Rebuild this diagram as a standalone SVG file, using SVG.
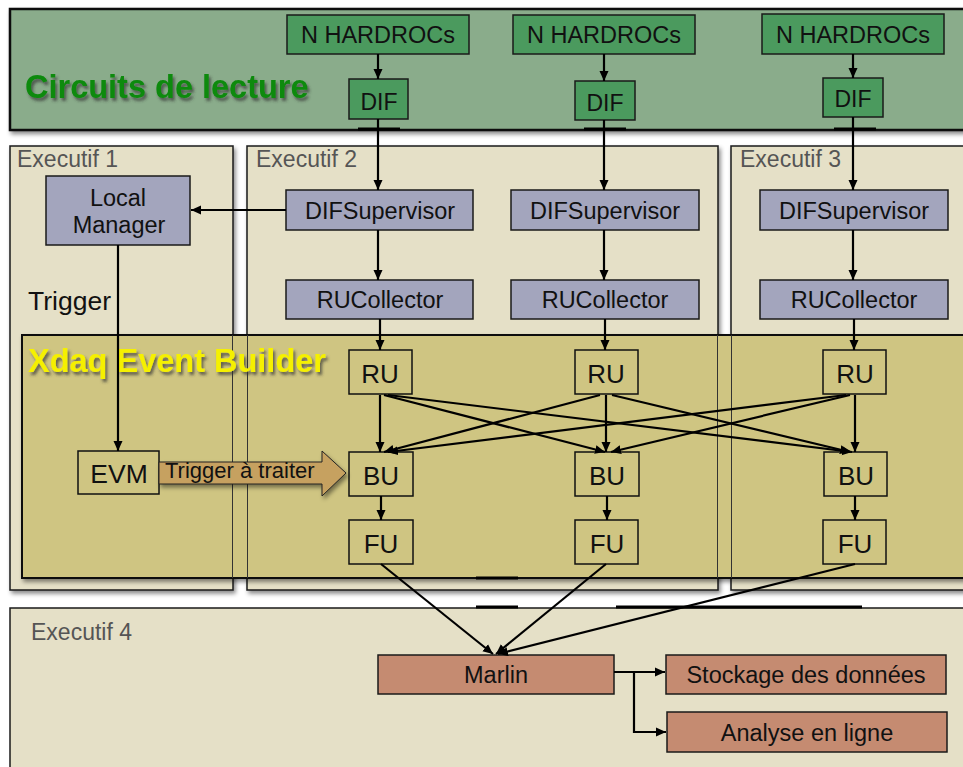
<svg xmlns="http://www.w3.org/2000/svg" width="963" height="767" viewBox="0 0 963 767">
<style>
.panel{stroke:#1a1a1a;stroke-width:1.5}
.exec{fill:#e5e0c7}
.hard{fill:#4b9a5e;stroke:#1a1a1a;stroke-width:1.5}
.sup{fill:#a3a5bd;stroke:#1a1a1a;stroke-width:1.5}
.xd{fill:none;stroke:#111;stroke-width:1.5}
.mar{fill:#c58b71;stroke:#1a1a1a;stroke-width:1.5}
.t{font-family:"Liberation Sans",Arial,sans-serif;fill:#111;text-anchor:middle}
.lbl{font-family:"Liberation Sans",Arial,sans-serif;fill:#555;font-size:23px}
.c{fill:none;stroke:#000;stroke-width:2.2}
.bar{stroke:#000;stroke-width:3}
</style>
<defs>
<marker id="ah" markerWidth="12" markerHeight="12" refX="10" refY="5.5" orient="auto" markerUnits="userSpaceOnUse">
<path d="M0,1 L10,5.5 L0,10 Z" fill="#000"/>
</marker>
<filter id="sh" x="-10%" y="-10%" width="120%" height="130%">
<feDropShadow dx="2" dy="3" stdDeviation="2" flood-color="#000" flood-opacity="0.45"/>
</filter>
<filter id="tsh" x="-5%" y="-20%" width="110%" height="150%">
<feDropShadow dx="2" dy="3" stdDeviation="1.5" flood-color="#333" flood-opacity="0.7"/>
</filter>
</defs>

<g id="panel-circuits">
<rect x="10" y="9" width="960" height="121" fill="#8aac8b" stroke="#111" stroke-width="2.5" filter="url(#sh)"/>
<text x="25" y="98" font-family="Liberation Sans,Arial,sans-serif" font-weight="bold" font-size="32.5" fill="#0b8a0b" filter="url(#tsh)">Circuits de lecture</text>
</g>

<g id="panel-exec1"><rect class="panel exec" x="10" y="146" width="223" height="444" filter="url(#sh)"/>
<text class="lbl" x="17" y="167">Executif 1</text></g>
<g id="panel-exec2"><rect class="panel exec" x="247" y="146" width="471" height="444" filter="url(#sh)"/>
<text class="lbl" x="256" y="167">Executif 2</text></g>
<g id="panel-exec3"><rect class="panel exec" x="731" y="146" width="240" height="444" filter="url(#sh)"/>
<text class="lbl" x="740" y="167">Executif 3</text></g>
<g id="panel-exec4"><rect class="panel exec" x="10" y="608" width="960" height="170"/>
<text class="lbl" x="31" y="640">Executif 4</text></g>

<g id="panel-xdaq">
<rect x="22" y="335" width="950" height="243" fill="#cfc582" stroke="#111" stroke-width="2" filter="url(#sh)"/>
<line x1="232.5" y1="335" x2="232.5" y2="578" stroke="#333" stroke-width="1"/>
<line x1="247.5" y1="335" x2="247.5" y2="578" stroke="#333" stroke-width="1"/>
<line x1="717.5" y1="335" x2="717.5" y2="578" stroke="#333" stroke-width="1"/>
<line x1="731.5" y1="335" x2="731.5" y2="578" stroke="#333" stroke-width="1"/>
<text x="28" y="372" font-family="Liberation Sans,Arial,sans-serif" font-weight="bold" font-size="32.5" fill="#f5f000" filter="url(#tsh)">Xdaq Event Builder</text>
</g>

<g id="hardrocs-1"><rect class="hard" x="287" y="15" width="182" height="39"/><text class="t" x="378" y="43" font-size="23.5">N HARDROCs</text></g>
<g id="hardrocs-2"><rect class="hard" x="513" y="15" width="182" height="39"/><text class="t" x="604" y="43" font-size="23.5">N HARDROCs</text></g>
<g id="hardrocs-3"><rect class="hard" x="762" y="14" width="182" height="40"/><text class="t" x="853" y="43" font-size="23.5">N HARDROCs</text></g>

<g id="dif-1"><rect class="hard" x="349" y="79" width="59" height="40"/><text class="t" x="379" y="110" font-size="23">DIF</text></g>
<g id="dif-2"><rect class="hard" x="575" y="81" width="60" height="39"/><text class="t" x="605" y="111" font-size="23">DIF</text></g>
<g id="dif-3"><rect class="hard" x="823" y="78" width="60" height="39"/><text class="t" x="853" y="107" font-size="23">DIF</text></g>

<g id="local-manager"><rect class="sup" x="46" y="176" width="144" height="69"/>
<text class="t" x="118" y="206" font-size="23.5">Local</text><text class="t" x="119" y="233" font-size="23.5">Manager</text></g>

<g id="difsup-1"><rect class="sup" x="286" y="190" width="187" height="40"/><text class="t" x="380" y="219" font-size="23.5">DIFSupervisor</text></g>
<g id="difsup-2"><rect class="sup" x="511" y="190" width="188" height="40"/><text class="t" x="605" y="219" font-size="23.5">DIFSupervisor</text></g>
<g id="difsup-3"><rect class="sup" x="760" y="190" width="188" height="40"/><text class="t" x="854" y="219" font-size="23.5">DIFSupervisor</text></g>

<g id="rucoll-1"><rect class="sup" x="286" y="280" width="187" height="39"/><text class="t" x="380" y="308" font-size="23.5">RUCollector</text></g>
<g id="rucoll-2"><rect class="sup" x="511" y="280" width="188" height="39"/><text class="t" x="605" y="308" font-size="23.5">RUCollector</text></g>
<g id="rucoll-3"><rect class="sup" x="760" y="280" width="188" height="39"/><text class="t" x="854" y="308" font-size="23.5">RUCollector</text></g>

<g id="ru-1"><rect class="xd" x="349" y="350" width="63" height="44"/><text class="t" x="380" y="383" font-size="26">RU</text></g>
<g id="ru-2"><rect class="xd" x="575" y="350" width="63" height="44"/><text class="t" x="606" y="383" font-size="26">RU</text></g>
<g id="ru-3"><rect class="xd" x="823" y="350" width="63" height="44"/><text class="t" x="855" y="383" font-size="26">RU</text></g>

<g id="bu-1"><rect class="xd" x="349" y="452" width="64" height="44"/><text class="t" x="381" y="485" font-size="26">BU</text></g>
<g id="bu-2"><rect class="xd" x="575" y="452" width="64" height="44"/><text class="t" x="607" y="485" font-size="26">BU</text></g>
<g id="bu-3"><rect class="xd" x="824" y="452" width="63" height="44"/><text class="t" x="856" y="485" font-size="26">BU</text></g>

<g id="fu-1"><rect class="xd" x="349" y="520" width="64" height="44"/><text class="t" x="381" y="553" font-size="26">FU</text></g>
<g id="fu-2"><rect class="xd" x="575" y="520" width="63" height="44"/><text class="t" x="607" y="553" font-size="26">FU</text></g>
<g id="fu-3"><rect class="xd" x="823" y="520" width="63" height="44"/><text class="t" x="855" y="553" font-size="26">FU</text></g>

<g id="evm"><rect class="xd" x="78" y="451" width="81" height="43"/><text class="t" x="119" y="483" font-size="26.5">EVM</text></g>

<g id="trigger-arrow">
<path d="M159,462 L322,462 L322,451 L346,473 L322,496 L322,484 L159,484 Z" fill="#c6a160" stroke="#222" stroke-width="1" filter="url(#sh)"/>
<text x="165" y="478" font-family="Liberation Sans,Arial,sans-serif" font-size="22" fill="#111">Trigger à traiter</text>
</g>

<g id="marlin"><rect class="mar" x="378" y="655" width="236" height="39"/><text class="t" x="496" y="683" font-size="23.5">Marlin</text></g>
<g id="stockage"><rect class="mar" x="666" y="655" width="280" height="39"/><text class="t" x="806" y="683" font-size="23.5">Stockage des données</text></g>
<g id="analyse"><rect class="mar" x="667" y="712" width="280" height="40"/><text class="t" x="807" y="741" font-size="23.5">Analyse en ligne</text></g>

<g id="connectors">
<line class="c" x1="378" y1="54" x2="378" y2="79" marker-end="url(#ah)"/>
<line class="c" x1="604" y1="54" x2="604" y2="81" marker-end="url(#ah)"/>
<line class="c" x1="853" y1="54" x2="853" y2="78" marker-end="url(#ah)"/>
<line class="c" x1="378" y1="119" x2="378" y2="190" marker-end="url(#ah)"/>
<line class="c" x1="604" y1="120" x2="604" y2="190" marker-end="url(#ah)"/>
<line class="c" x1="853" y1="117" x2="853" y2="190" marker-end="url(#ah)"/>
<line class="c" x1="378" y1="230" x2="378" y2="280" marker-end="url(#ah)"/>
<line class="c" x1="604" y1="230" x2="604" y2="280" marker-end="url(#ah)"/>
<line class="c" x1="853" y1="230" x2="853" y2="280" marker-end="url(#ah)"/>
<line class="c" x1="286" y1="210" x2="191" y2="210" marker-end="url(#ah)"/>
<line class="c" x1="118" y1="245" x2="118" y2="451" marker-end="url(#ah)"/>
<text x="28" y="310" font-family="Liberation Sans,Arial,sans-serif" font-size="26.5" fill="#111">Trigger</text>
<line class="c" x1="380" y1="319" x2="380" y2="350" marker-end="url(#ah)"/>
<line class="c" x1="605" y1="319" x2="605" y2="350" marker-end="url(#ah)"/>
<line class="c" x1="854" y1="319" x2="854" y2="350" marker-end="url(#ah)"/>
<line class="c" x1="380" y1="395" x2="380" y2="452" marker-end="url(#ah)"/>
<line class="c" x1="384" y1="395" x2="605" y2="452" marker-end="url(#ah)"/>
<line class="c" x1="388" y1="395" x2="852" y2="452" marker-end="url(#ah)"/>
<line class="c" x1="600" y1="395" x2="384" y2="452" marker-end="url(#ah)"/>
<line class="c" x1="606" y1="395" x2="606" y2="452" marker-end="url(#ah)"/>
<line class="c" x1="612" y1="395" x2="850" y2="452" marker-end="url(#ah)"/>
<line class="c" x1="846" y1="395" x2="388" y2="452" marker-end="url(#ah)"/>
<line class="c" x1="850" y1="395" x2="611" y2="452" marker-end="url(#ah)"/>
<line class="c" x1="855" y1="395" x2="855" y2="452" marker-end="url(#ah)"/>
<line class="c" x1="381" y1="496" x2="381" y2="520" marker-end="url(#ah)"/>
<line class="c" x1="607" y1="496" x2="607" y2="520" marker-end="url(#ah)"/>
<line class="c" x1="855" y1="496" x2="855" y2="520" marker-end="url(#ah)"/>
<line class="c" x1="381" y1="564" x2="493" y2="654" marker-end="url(#ah)"/>
<line class="c" x1="606" y1="564" x2="496" y2="654" marker-end="url(#ah)"/>
<line class="c" x1="855" y1="564" x2="498" y2="654" marker-end="url(#ah)"/>
<line class="c" x1="614" y1="672" x2="665" y2="672" marker-end="url(#ah)"/>
<polyline class="c" points="634,672 634,732 666,732" marker-end="url(#ah)"/>
<line class="bar" x1="358" y1="129" x2="400" y2="129"/>
<line class="bar" x1="584" y1="129" x2="626" y2="129"/>
<line class="bar" x1="834" y1="129" x2="876" y2="129"/>
<line class="bar" x1="476" y1="578" x2="518" y2="578"/>
<line class="bar" x1="476" y1="607" x2="518" y2="607"/>
<line class="bar" x1="616" y1="607" x2="862" y2="607"/>
</g>
</svg>
